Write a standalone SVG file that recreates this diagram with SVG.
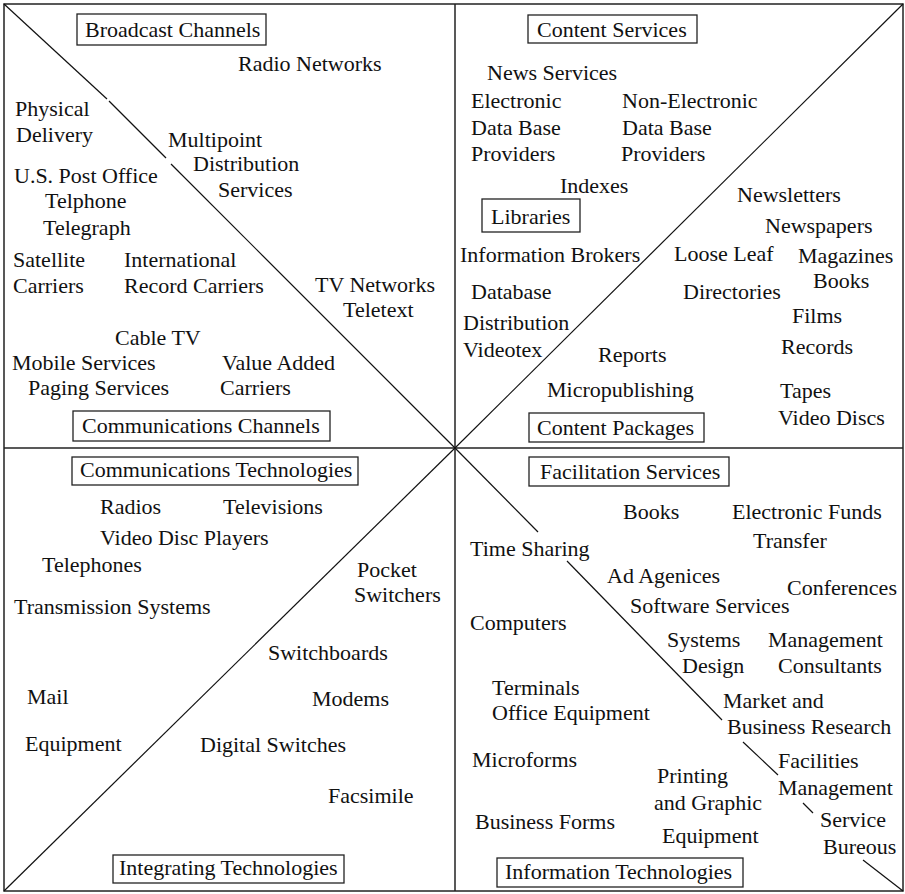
<svg xmlns="http://www.w3.org/2000/svg" width="905" height="894" viewBox="0 0 905 894">
<style>
text{font-family:"Liberation Serif","DejaVu Serif",serif;font-size:22px;fill:#111}
.box{fill:none;stroke:#222;stroke-width:1.3}
.ln{stroke:#111;stroke-width:1.2;fill:none}
.bd{stroke:#222;stroke-width:1.5;fill:none}
</style>
<rect x="0" y="0" width="905" height="894" fill="#fff"/>
<g id="connectors">
<rect class="bd" x="4" y="4" width="899" height="887"/>
<line class="bd" x1="455" y1="4" x2="455" y2="891"/>
<line class="bd" x1="4" y1="448" x2="903" y2="448"/>
<polyline class="ln" points="4,4 107,99"/>
<polyline class="ln" points="109,101 166,158"/>
<polyline class="ln" points="171,164 455,448"/>
<line class="ln" x1="455" y1="448" x2="903" y2="4"/>
<line class="ln" x1="4" y1="891" x2="455" y2="448"/>
<line class="ln" x1="455" y1="448" x2="538" y2="532"/>
<line class="ln" x1="567" y1="561" x2="722" y2="720"/>
<line class="ln" x1="743" y1="742" x2="778" y2="775"/>
<line class="ln" x1="803" y1="803" x2="813" y2="813"/>
<line class="ln" x1="863" y1="860" x2="903" y2="891"/>
</g>
<g id="broadcast-channels"><rect class="box" x="77" y="14" width="189" height="31"/><text x="85" y="37">Broadcast Channels</text></g>
<g id="radio-networks"><text x="238" y="71">Radio Networks</text></g>
<g id="physical-delivery"><text x="15" y="116">Physical</text><text x="16" y="142">Delivery</text></g>
<g id="multipoint"><text x="168" y="147">Multipoint</text><text x="193" y="171">Distribution</text><text x="218" y="197">Services</text></g>
<g id="us-post-office"><text x="14" y="183">U.S. Post Office</text></g>
<g id="telphone"><text x="45" y="208">Telphone</text></g>
<g id="telegraph"><text x="43" y="235">Telegraph</text></g>
<g id="satellite-carriers"><text x="13" y="267">Satellite</text><text x="13" y="293">Carriers</text></g>
<g id="international"><text x="124" y="267">International</text><text x="124" y="293">Record Carriers</text></g>
<g id="tv-networks"><text x="315" y="292">TV Networks</text></g>
<g id="teletext"><text x="343" y="317">Teletext</text></g>
<g id="cable-tv"><text x="115" y="345">Cable TV</text></g>
<g id="mobile-services"><text x="12" y="370">Mobile Services</text></g>
<g id="paging-services"><text x="28" y="395">Paging Services</text></g>
<g id="value-added"><text x="222" y="370">Value Added</text><text x="220" y="395">Carriers</text></g>
<g id="communications-channels"><rect class="box" x="73" y="411" width="257" height="30"/><text x="82" y="433">Communications Channels</text></g>

<g id="content-services"><rect class="box" x="528" y="15" width="169" height="28"/><text x="537" y="37">Content Services</text></g>
<g id="news-services"><text x="487" y="80">News Services</text></g>
<g id="electronic-db"><text x="471" y="108">Electronic</text><text x="471" y="135">Data Base</text><text x="471" y="161">Providers</text></g>
<g id="non-electronic-db"><text x="622" y="108">Non-Electronic</text><text x="622" y="135">Data Base</text><text x="621" y="161">Providers</text></g>
<g id="indexes"><text x="560" y="193">Indexes</text></g>
<g id="libraries"><rect class="box" x="482" y="199" width="98" height="33"/><text x="491" y="224">Libraries</text></g>
<g id="newsletters"><text x="737" y="202">Newsletters</text></g>
<g id="newspapers"><text x="765" y="233">Newspapers</text></g>
<g id="information-brokers"><text x="460" y="262">Information Brokers</text></g>
<g id="loose-leaf"><text x="674" y="261">Loose Leaf</text></g>
<g id="magazines"><text x="798" y="263">Magazines</text></g>
<g id="books-cp"><text x="813" y="288">Books</text></g>
<g id="database-distribution"><text x="471" y="299">Database</text><text x="463" y="330">Distribution</text></g>
<g id="directories"><text x="683" y="299">Directories</text></g>
<g id="films"><text x="792" y="323">Films</text></g>
<g id="records"><text x="781" y="354">Records</text></g>
<g id="videotex"><text x="463" y="357">Videotex</text></g>
<g id="reports"><text x="598" y="362">Reports</text></g>
<g id="micropublishing"><text x="547" y="397">Micropublishing</text></g>
<g id="tapes"><text x="780" y="398">Tapes</text></g>
<g id="video-discs"><text x="778" y="425">Video Discs</text></g>
<g id="content-packages"><rect class="box" x="529" y="413" width="175" height="29"/><text x="537" y="435">Content Packages</text></g>

<g id="communications-technologies"><rect class="box" x="72" y="457" width="286" height="28"/><text x="80" y="477">Communications Technologies</text></g>
<g id="radios"><text x="100" y="514">Radios</text></g>
<g id="televisions"><text x="223" y="514">Televisions</text></g>
<g id="video-disc-players"><text x="100" y="545">Video Disc Players</text></g>
<g id="telephones"><text x="42" y="572">Telephones</text></g>
<g id="pocket-switchers"><text x="357" y="577">Pocket</text><text x="354" y="602">Switchers</text></g>
<g id="transmission-systems"><text x="14" y="614">Transmission Systems</text></g>
<g id="switchboards"><text x="268" y="660">Switchboards</text></g>
<g id="mail-equipment"><text x="27" y="704">Mail</text><text x="25" y="751">Equipment</text></g>
<g id="modems"><text x="312" y="706">Modems</text></g>
<g id="digital-switches"><text x="200" y="752">Digital Switches</text></g>
<g id="facsimile"><text x="328" y="803">Facsimile</text></g>
<g id="integrating-technologies"><rect class="box" x="113" y="855" width="231" height="28"/><text x="119" y="875">Integrating Technologies</text></g>

<g id="facilitation-services"><rect class="box" x="529" y="457" width="200" height="29"/><text x="540" y="479">Facilitation Services</text></g>
<g id="books-fs"><text x="623" y="519">Books</text></g>
<g id="eft"><text x="732" y="519">Electronic Funds</text><text x="753" y="548">Transfer</text></g>
<g id="time-sharing"><text x="470" y="556">Time Sharing</text></g>
<g id="ad-agencies"><text x="607" y="583">Ad Agenices</text></g>
<g id="conferences"><text x="787" y="595">Conferences</text></g>
<g id="software-services"><text x="630" y="613">Software Services</text></g>
<g id="computers"><text x="470" y="630">Computers</text></g>
<g id="systems-design"><text x="667" y="647">Systems</text><text x="682" y="673">Design</text></g>
<g id="management-consultants"><text x="768" y="647">Management</text><text x="778" y="673">Consultants</text></g>
<g id="terminals"><text x="492" y="695">Terminals</text></g>
<g id="office-equipment"><text x="492" y="720">Office Equipment</text></g>
<g id="market-research"><text x="723" y="708">Market and</text><text x="727" y="734">Business Research</text></g>
<g id="microforms"><text x="472" y="767">Microforms</text></g>
<g id="facilities-management"><text x="778" y="768">Facilities</text><text x="778" y="795">Management</text></g>
<g id="printing-graphic"><text x="657" y="783">Printing</text><text x="654" y="810">and Graphic</text><text x="662" y="843">Equipment</text></g>
<g id="business-forms"><text x="475" y="829">Business Forms</text></g>
<g id="service-bureous"><text x="820" y="827">Service</text><text x="823" y="854">Bureous</text></g>
<g id="information-technologies"><rect class="box" x="497" y="858" width="246" height="29"/><text x="505" y="879">Information Technologies</text></g>
</svg>
